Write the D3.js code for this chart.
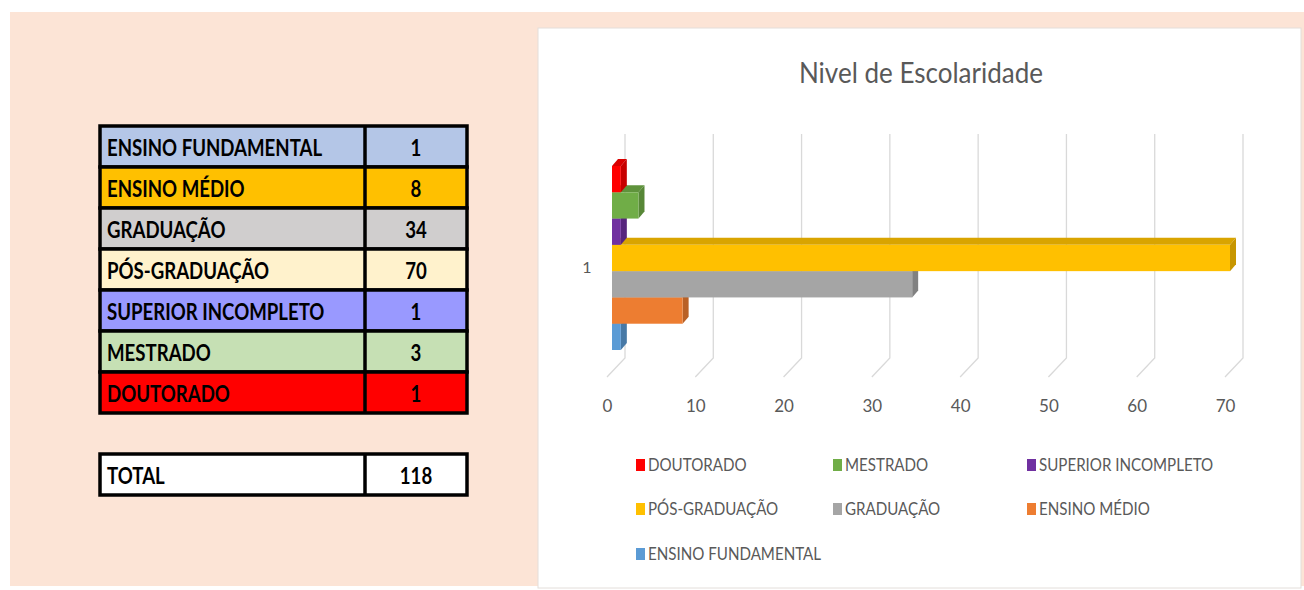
<!DOCTYPE html>
<html>
<head>
<meta charset="utf-8">
<script src="https://cdn.jsdelivr.net/npm/d3@7"></script>
<style>
  body { margin: 0; background: #fff; }
  svg { display: block; }
  .calibri { font-family: Lato, "Open Sans", sans-serif; }
</style>
</head>
<body>
<div id="chart"></div>
<script>
// dados da tabela (ordem da tabela)
var categorias = ["ENSINO FUNDAMENTAL", "ENSINO MÉDIO", "GRADUAÇÃO", "PÓS-GRADUAÇÃO", "SUPERIOR INCOMPLETO", "MESTRADO", "DOUTORADO"];
var valores = [1, 8, 34, 70, 1, 3, 1];
// ordem das series no grafico / legenda
var series = ["DOUTORADO", "MESTRADO", "SUPERIOR INCOMPLETO", "PÓS-GRADUAÇÃO", "GRADUAÇÃO", "ENSINO MÉDIO", "ENSINO FUNDAMENTAL"];
var rotuloCategoria = ["1"];
var ticks = [0, 10, 20, 30, 40, 50, 60, 70];
var titulo = "Nivel de Escolaridade";

var dados = categorias.map(function(c, i) { return {nome: c, valor: valores[i]}; });
var porNome = {};
dados.forEach(function(d) { porNome[d.nome] = d.valor; });

var corTabela = d3.scaleOrdinal()
  .domain(categorias)
  .range(["#B4C6E7", "#FFC000", "#D0CECE", "#FFF2CC", "#9999FF", "#C6E0B4", "#FF0000"]);

var corSerie = d3.scaleOrdinal()
  .domain(series)
  .range(["#FF0000", "#70AD47", "#7030A0", "#FFC000", "#A5A5A5", "#ED7D31", "#5B9BD5"]);

// Lato e mais larga que Calibri: aperta o texto na horizontal
function condensa(sel, sx) {
  sel.attr("transform", function() {
    var x = +this.getAttribute("x"), y = +this.getAttribute("y");
    this.setAttribute("x", 0);
    this.setAttribute("y", 0);
    return "translate(" + x + "," + y + ") scale(" + sx + ",1)";
  });
}

var W = 1304, H = 590;
var svg = d3.select("#chart").append("svg")
  .attr("width", W).attr("height", H)
  .attr("class", "calibri");

// fundo
svg.append("rect").attr("x", 10).attr("y", 12).attr("width", W - 10).attr("height", 574).attr("fill", "#FCE4D6");

// ---------- tabela ----------
var tab = {left: 100, mid: 365, right: 467, top: 126, rowH: 41};
var yRow = d3.scaleBand()
  .domain(categorias)
  .range([tab.top, tab.top + tab.rowH * categorias.length]);

var linhas = svg.append("g").selectAll("g")
  .data(dados)
  .enter().append("g")
  .attr("transform", function(d) { return "translate(0," + yRow(d.nome) + ")"; });

linhas.append("rect")
  .attr("x", tab.left).attr("width", tab.right - tab.left)
  .attr("height", yRow.bandwidth())
  .attr("fill", function(d) { return corTabela(d.nome); })
  .attr("stroke", "#000").attr("stroke-width", 3.5);
linhas.append("line")
  .attr("x1", tab.mid).attr("x2", tab.mid)
  .attr("y1", 0).attr("y2", yRow.bandwidth())
  .attr("stroke", "#000").attr("stroke-width", 3.5);
linhas.append("text")
  .attr("x", tab.left + 7).attr("y", yRow.bandwidth() / 2 + 9)
  .attr("font-size", 23).attr("font-weight", "bold").attr("fill", "#000")
  .text(function(d) { return d.nome; })
  .call(condensa, 0.81);
linhas.append("text")
  .attr("x", (tab.mid + tab.right) / 2).attr("y", yRow.bandwidth() / 2 + 9)
  .attr("text-anchor", "middle")
  .attr("font-size", 23).attr("font-weight", "bold").attr("fill", "#000")
  .text(function(d) { return d.valor; })
  .call(condensa, 0.81);

// total
var total = d3.sum(valores);
var gt = svg.append("g").attr("transform", "translate(0,454)");
gt.append("rect").attr("x", tab.left).attr("width", tab.right - tab.left).attr("height", tab.rowH)
  .attr("fill", "#fff").attr("stroke", "#000").attr("stroke-width", 3.5);
gt.append("line").attr("x1", tab.mid).attr("x2", tab.mid).attr("y1", 0).attr("y2", tab.rowH)
  .attr("stroke", "#000").attr("stroke-width", 3.5);
gt.append("text").attr("x", tab.left + 7).attr("y", tab.rowH / 2 + 9)
  .attr("font-size", 23).attr("font-weight", "bold").text("TOTAL")
  .call(condensa, 0.81);
gt.append("text").attr("x", (tab.mid + tab.right) / 2).attr("y", tab.rowH / 2 + 9)
  .attr("text-anchor", "middle").attr("font-size", 23).attr("font-weight", "bold").text(total)
  .call(condensa, 0.81);

// ---------- grafico ----------
svg.append("rect").attr("x", 538).attr("y", 28).attr("width", 763).attr("height", 560)
  .attr("fill", "#fff").attr("stroke", "#E3DEDA").attr("stroke-width", 1);

svg.append("text")
  .attr("x", 921).attr("y", 83)
  .attr("text-anchor", "middle")
  .attr("font-size", 28).attr("fill", "#595959")
  .text(titulo)
  .call(condensa, 0.93);

// escalas: frente das barras, parede do fundo e rotulos da frente
var xBar = d3.scaleLinear().domain([0, 70]).range([612, 1230]);
var depthFloor = {back: 13, front: -5};
var depth = {dx: 6, dy: 7};
var gridTop = 134, gridBottom = 358, floorFront = 377;

var y = d3.scaleBand()
  .domain(series)
  .range([166, 350]);

// grade
var grid = svg.append("g");
grid.selectAll("path")
  .data(ticks)
  .enter().append("path")
  .attr("d", function(t) {
    var xb = xBar(t) + depthFloor.back, xf = xBar(t) + depthFloor.front;
    return "M" + xb + "," + gridTop + "V" + gridBottom + "L" + xf + "," + floorFront;
  })
  .attr("fill", "none").attr("stroke", "#D9D9D9").attr("stroke-width", 1.3);

// eixo x (rotulos)
var xAxis = d3.axisBottom(d3.scaleLinear().domain([0, 70]).range([xBar(0) + depthFloor.front, xBar(70) + depthFloor.front]))
  .tickValues(ticks).tickSize(0).tickPadding(0);
var gx = svg.append("g").attr("transform", "translate(0,400)").call(xAxis);
gx.select(".domain").remove();
gx.selectAll("text").attr("font-size", 17).attr("fill", "#595959")
  .attr("font-family", "Lato, sans-serif");

// rotulo da categoria
svg.append("text").attr("x", 587).attr("y", 273).attr("text-anchor", "middle")
  .attr("font-size", 16).attr("fill", "#595959").text(rotuloCategoria[0]);

// barras 3D: de baixo para cima, para que a barra de cima cubra o topo da de baixo
var barras = svg.append("g").selectAll("g")
  .data(series.slice().reverse())
  .enter().append("g");

function escurece(c, k) { return d3.color(c).darker(k).formatHex(); }

barras.append("path") // topo
  .attr("d", function(s) {
    var x0 = xBar(0), x1 = xBar(porNome[s]), yy = y(s);
    return "M" + x0 + "," + yy + "L" + (x0 + depth.dx) + "," + (yy - depth.dy) +
      "L" + (x1 + depth.dx) + "," + (yy - depth.dy) + "L" + x1 + "," + yy + "Z";
  })
  .attr("fill", function(s) { return escurece(corSerie(s), 0.45); });

barras.append("path") // lateral
  .attr("d", function(s) {
    var x1 = xBar(porNome[s]), yy = y(s), h = y.bandwidth();
    return "M" + x1 + "," + yy + "L" + (x1 + depth.dx) + "," + (yy - depth.dy) +
      "L" + (x1 + depth.dx) + "," + (yy + h - depth.dy) + "L" + x1 + "," + (yy + h) + "Z";
  })
  .attr("fill", function(s) { return escurece(corSerie(s), 0.7); });

barras.append("rect") // frente
  .attr("x", xBar(0))
  .attr("y", function(s) { return y(s); })
  .attr("width", function(s) { return xBar(porNome[s]) - xBar(0); })
  .attr("height", y.bandwidth())
  .attr("fill", function(s) { return corSerie(s); });

// legenda
var legX = [636, 833, 1027], legY = [465, 509, 554];
var leg = svg.append("g").selectAll("g")
  .data(series)
  .enter().append("g")
  .attr("transform", function(s, i) { return "translate(" + legX[i % 3] + "," + legY[Math.floor(i / 3)] + ")"; });
leg.append("rect").attr("x", 0).attr("y", -6).attr("width", 9).attr("height", 12)
  .attr("fill", function(s) { return corSerie(s); });
leg.append("text").attr("x", 12).attr("y", 6)
  .attr("font-size", 17).attr("fill", "#595959")
  .text(function(s) { return s; })
  .call(condensa, 0.89);
</script>
</body>
</html>
